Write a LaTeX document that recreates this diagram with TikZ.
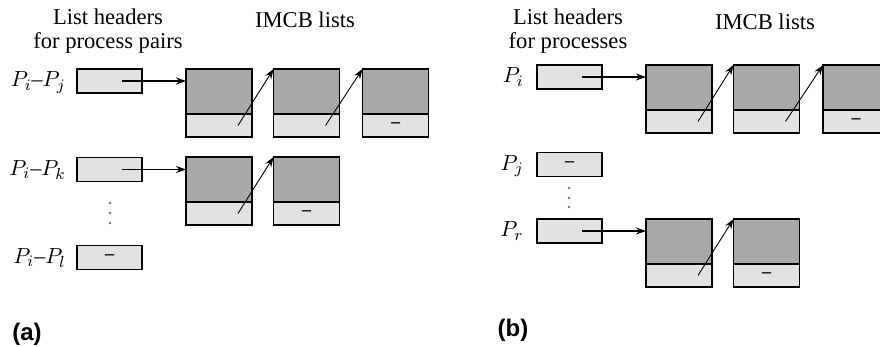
\documentclass[tikz,border=0pt]{standalone}
\usepackage{fontspec}
\setmainfont{Liberation Serif}
\newfontfamily\capfont{Liberation Sans}
\usepackage{tikz}
\usetikzlibrary{arrows.meta, positioning, calc}
\definecolor{imcb_dark}{RGB}{168, 168, 168}
\definecolor{imcb_light}{RGB}{226, 226, 226}
\definecolor{imcb_dots}{RGB}{110, 110, 110}

\begin{document}
\begin{tikzpicture}[x=0.5pt, y=-0.5pt,
      hdr/.style={rectangle, draw, fill=imcb_light, line width=0.6pt,
                  minimum width=32.5pt, minimum height=12pt,
                  inner sep=0pt, outer sep=0pt, font=\small\bfseries},
      mtop/.style={rectangle, draw, fill=imcb_dark, line width=0.6pt,
                   minimum width=33pt, minimum height=22.5pt,
                   inner sep=0pt, outer sep=0pt},
      mbot/.style={rectangle, draw, fill=imcb_light, line width=0.6pt,
                   minimum width=33pt, minimum height=11.5pt,
                   inner sep=0pt, outer sep=0pt, font=\small\bfseries},
      lbl/.style={font=\fontsize{11}{13}\selectfont, anchor=base east,
                  inner sep=0pt},
      ttl/.style={font=\fontsize{11.3}{11.6}\selectfont, align=center},
      tag/.style={font=\capfont\bfseries\fontsize{12}{14}\selectfont},
      ptr/.style={-{Stealth[length=5pt, width=3.5pt]}, line width=0.6pt},
      lnk/.style={-{Stealth[length=5pt, width=3.5pt]}, line width=0.45pt},
    ]
      \useasboundingbox (0,0) rectangle (880,347);
      \clip (0,0) rectangle (880,347);

      % (a) list headers for process pairs
      \node[ttl] (ta1) at (108, 31) {List headers\\for process pairs};
      \node[ttl] (ta2) at (305, 20) {IMCB lists};

      \node[hdr] (hij) at (109.5, 81)    {};
      \node[hdr] (hik) at (109.5, 169.5) {};
      \node[hdr] (hil) at (109.5, 257.5) {--};
      \node[lbl] (lij) at ($(hij.west)+(-11,6)$) {$P_i$--$P_j$};
      \node[lbl] (lik) at ($(hik.west)+(-11,6)$) {$P_i$--$P_k$};
      \node[lbl] (lil) at ($(hil.west)+(-11,6)$) {$P_i$--$P_l$};
      \fill[imcb_dots] (110,203) circle (0.7pt) (110,213) circle (0.7pt)
                       (110,223) circle (0.7pt);

      \node[mtop] (a1) at (219, 91.5)   {};
      \node[mbot, below=0pt of a1] (a1b) {};
      \node[mtop] (a2) at (306.5, 91.5) {};
      \node[mbot, below=0pt of a2] (a2b) {};
      \node[mtop] (a3) at (395.5, 91.5) {};
      \node[mbot, below=0pt of a3] (a3b) {--};

      \node[mtop] (a4) at (219, 179.5)   {};
      \node[mbot, below=0pt of a4] (a4b) {};
      \node[mtop] (a5) at (306.5, 179.5) {};
      \node[mbot, below=0pt of a5] (a5b) {--};

      \draw[ptr] ($(hij.center)+(12,0)$) -- (hij.center -| a1.west);
      \draw[ptr] ($(hik.center)+(12,0)$) -- (hik.center -| a4.west);
      \draw[lnk] ($(a1b.center)+(19,0)$) -- (a2.north west);
      \draw[lnk] ($(a2b.center)+(19,0)$) -- (a3.north west);
      \draw[lnk] ($(a4b.center)+(19,0)$) -- (a5.north west);

      \node[tag] (capa) at (27, 334) {(a)};

      % (b) list headers for processes
      \node[ttl] (tb1) at (568, 31) {List headers\\for processes};
      \node[ttl] (tb2) at (765, 22) {IMCB lists};

      \node[hdr] (hi) at (569.5, 77)    {};
      \node[hdr] (hj) at (569.5, 164.5) {--};
      \node[hdr] (hr) at (569.5, 231)   {};
      \node[lbl] (li) at ($(hi.west)+(-13,6)$) {$P_i$};
      \node[lbl] (lj) at ($(hj.west)+(-13,6)$) {$P_j$};
      \node[lbl] (lr) at ($(hr.west)+(-13,6)$) {$P_r$};
      \fill[imcb_dots] (569,188) circle (0.7pt) (569,198) circle (0.7pt)
                       (569,207) circle (0.7pt);

      \node[mtop] (b1) at (679, 87.5)   {};
      \node[mbot, below=0pt of b1] (b1b) {};
      \node[mtop] (b2) at (766.5, 87.5) {};
      \node[mbot, below=0pt of b2] (b2b) {};
      \node[mtop] (b3) at (856, 87.5)   {};
      \node[mbot, below=0pt of b3] (b3b) {--};

      \node[mtop] (b4) at (679, 241.5)   {};
      \node[mbot, below=0pt of b4] (b4b) {};
      \node[mtop] (b5) at (766.5, 241.5) {};
      \node[mbot, below=0pt of b5] (b5b) {--};

      \draw[ptr] ($(hi.center)+(12,0)$) -- (hi.center -| b1.west);
      \draw[ptr] ($(hr.center)+(12,0)$) -- (hr.center -| b4.west);
      \draw[lnk] ($(b1b.center)+(19,0)$) -- (b2.north west);
      \draw[lnk] ($(b2b.center)+(19,0)$) -- (b3.north west);
      \draw[lnk] ($(b4b.center)+(19,0)$) -- (b5.north west);

      \node[tag] (capb) at (513, 330) {(b)};
    \end{tikzpicture}
\end{document}
